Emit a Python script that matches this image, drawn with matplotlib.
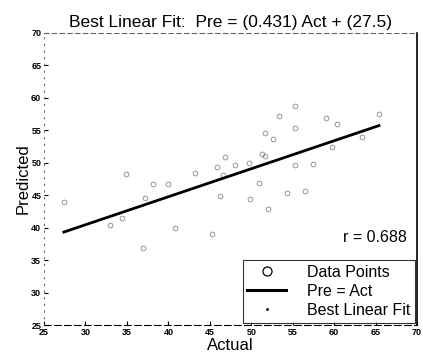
import numpy as np
import matplotlib
matplotlib.use('Agg')
import matplotlib.pyplot as plt
from matplotlib.lines import Line2D

plt.rcParams['font.family'] = ['Liberation Sans', 'DejaVu Sans']

# data
actual = [27.4, 33.0, 34.4, 34.9, 36.9, 37.2, 38.1, 40.0, 40.8, 43.2,
          45.3, 45.9, 46.2, 46.6, 46.8, 48.0, 49.7, 49.8, 50.9, 51.3,
          51.6, 51.7, 52.0, 52.6, 53.3, 54.3, 55.3, 55.3, 55.3, 56.5,
          57.4, 59.0, 59.7, 60.3, 63.4, 65.4]
predicted = [43.9, 40.4, 41.5, 48.2, 36.8, 44.5, 46.7, 46.7, 39.9, 48.4,
             39.0, 49.3, 44.8, 48.1, 50.8, 49.6, 49.9, 44.4, 46.8, 51.3,
             51.0, 54.5, 42.8, 53.6, 57.2, 45.3, 58.7, 55.3, 49.6, 45.7,
             49.8, 56.8, 52.4, 55.9, 53.9, 57.5]
slope = 0.431
intercept = 27.5
r_value = 0.688
ticks = [25, 30, 35, 40, 45, 50, 55, 60, 65, 70]

fig = plt.figure(figsize=(4.23, 3.58), dpi=100)
ax = fig.add_axes([0.104, 0.092, 0.882, 0.817])

ax.plot(actual, predicted, 'o', ms=3.5, mfc='none', mec='0.45', mew=0.5)
xfit = np.array([min(actual), max(actual)])
ax.plot(xfit, slope * xfit + intercept, '-', color='black', lw=2)

ax.set_xlim(25, 70)
ax.set_ylim(25, 70)
ax.set_xticks(ticks)
ax.set_yticks(ticks)
ax.tick_params(direction='in', length=3, width=0.8, labelsize=6.5, pad=2)
for lab in ax.get_xticklabels() + ax.get_yticklabels():
    lab.set_fontweight('bold')

ax.spines['top'].set_linestyle((0, (4, 3)))
ax.spines['top'].set_color('0.4')
ax.spines['bottom'].set_linestyle((0, (6, 3)))
ax.spines['left'].set_linestyle((0, (1, 5)))
ax.spines['left'].set_color('0.4')
ax.spines['right'].set_linewidth(1.2)

ax.set_title('Best Linear Fit:  Pre = (%.3f) Act + (%.1f)' % (slope, intercept),
             fontsize=12.5, pad=4)
ax.set_xlabel('Actual', fontsize=12, labelpad=1)
ax.set_ylabel('Predicted', fontsize=12, labelpad=0)

ax.text(68.8, 38.4, 'r = %.3f' % r_value, fontsize=11.5, ha='right', va='center')

handles = [Line2D([], [], marker='o', ls='none', mfc='none', mec='black', ms=6.5, mew=0.9),
           Line2D([], [], color='black', lw=2.2),
           Line2D([], [], marker='.', ls='none', color='black', ms=2)]
leg = ax.legend(handles, ['Data Points', 'Pre = Act', 'Best Linear Fit'],
                loc='lower right', fontsize=11.5, frameon=True, fancybox=False,
                borderaxespad=0.15, handlelength=2.4, labelspacing=0.25,
                borderpad=0.3, handletextpad=1.3)
leg.get_frame().set_edgecolor('black')
leg.get_frame().set_linewidth(0.8)

fig.savefig('out.png', dpi=100)
